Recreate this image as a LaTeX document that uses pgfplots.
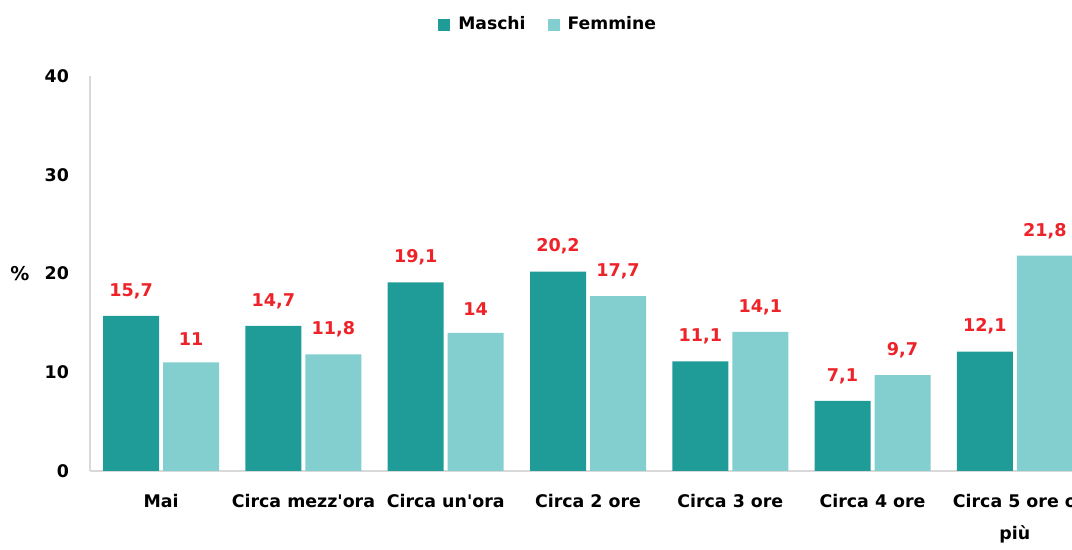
\documentclass[border=0pt]{standalone}
\usepackage{pgfplots}
\pgfplotsset{compat=1.18}
\usepackage{fontspec}
\setmainfont{DejaVu Sans}[Ligatures=TeXOff]
\definecolor{maschi}{HTML}{1F9B98}
\definecolor{femmine}{HTML}{83CFCF}
\definecolor{lblred}{HTML}{EE2229}
\definecolor{axgray}{HTML}{D9D9D9}
\begin{document}
\begin{tikzpicture}[trim left=0pt, trim right=536pt]
\path (0pt,0pt) rectangle (536pt,271pt);
\begin{axis}[
  at={(45pt,35.5pt)}, anchor=south west,
  scale only axis, width=498pt, height=197.5pt,
  ybar=2pt, bar width=28pt,
  xmin=-0.5, xmax=6.5, ymin=0, ymax=40,
  clip=false,
  axis x line=bottom, axis y line=left,
  axis line style={axgray, line width=0.8pt, -},
  major tick length=0pt,
  xtick={0,...,6},
  xticklabels={Mai, Circa mezz'ora, Circa un'ora, Circa 2 ore, Circa 3 ore, Circa 4 ore, {Circa 5 ore o\\più}},
  x tick label style={align=center, font=\fontsize{8.7}{16}\selectfont\bfseries, yshift=-8pt},
  ytick={0,10,20,30,40},
  y tick label style={font=\fontsize{8.7}{10}\selectfont\bfseries, xshift=-7pt},
  /pgf/number format/assume math mode=true,
  /pgf/number format/use comma,
  nodes near coords,
  nodes near coords style={font=\fontsize{8.8}{10}\selectfont\bfseries, text=lblred, anchor=south, yshift=5pt},
  legend style={at={(0.461,1.13)}, anchor=center, draw=none, fill=none,
    font=\fontsize{8.6}{10}\selectfont\bfseries, legend columns=2,
    /tikz/every even column/.append style={column sep=9pt}},
  legend image code/.code={\fill[#1] (0pt,-3pt) rectangle (6pt,3pt); \path (8pt,0pt);},
]
\addplot[fill=maschi, draw=none] coordinates {(0,15.7) (1,14.7) (2,19.1) (3,20.2) (4,11.1) (5,7.1) (6,12.1)};
\addplot[fill=femmine, draw=none] coordinates {(0,11) (1,11.8) (2,14) (3,17.7) (4,14.1) (5,9.7) (6,21.8)};
\legend{Maschi, Femmine}
\node[font=\fontsize{9.5}{10}\selectfont\bfseries] at (rel axis cs:-0.0703,0.501) {\%};
\end{axis}
\end{tikzpicture}
\end{document}
